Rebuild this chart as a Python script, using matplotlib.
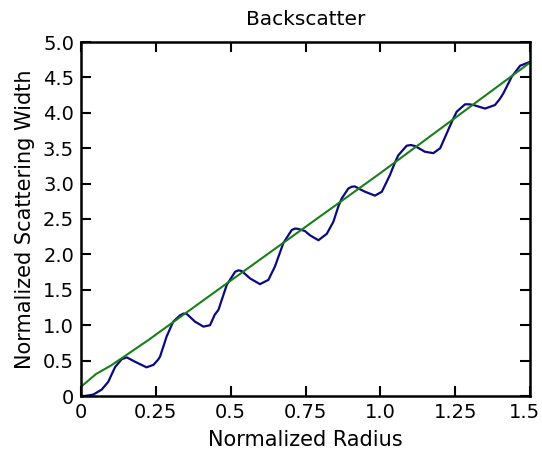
import matplotlib
matplotlib.use("Agg")
import matplotlib.pyplot as plt
import matplotlib.transforms as mtransforms

# Blue curve: exact backscatter width
radius = [0.0, 0.013, 0.041, 0.069, 0.091, 0.114, 0.124, 0.136, 0.153, 0.180, 0.219,
          0.242, 0.257, 0.264, 0.286, 0.308, 0.331, 0.343, 0.353, 0.381, 0.409, 0.431,
          0.447, 0.459, 0.487, 0.515, 0.526, 0.537, 0.565, 0.598, 0.626, 0.648, 0.676,
          0.704, 0.716, 0.726, 0.748, 0.765, 0.793, 0.821, 0.843, 0.860, 0.871, 0.893,
          0.904, 0.915, 0.932, 0.949, 0.982, 1.005, 1.032, 1.049, 1.060, 1.088, 1.102,
          1.116, 1.149, 1.177, 1.200, 1.227, 1.244, 1.255, 1.283, 1.297, 1.311, 1.350,
          1.383, 1.400, 1.411, 1.439, 1.467, 1.494, 1.500]
width_exact = [0.0, 0.0, 0.02, 0.09, 0.20, 0.41, 0.46, 0.52, 0.545, 0.485, 0.405,
               0.44, 0.51, 0.555, 0.84, 1.05, 1.14, 1.165, 1.16, 1.05, 0.98, 1.00,
               1.15, 1.215, 1.57, 1.755, 1.775, 1.765, 1.66, 1.58, 1.64, 1.83, 2.16,
               2.345, 2.365, 2.36, 2.33, 2.27, 2.20, 2.29, 2.46, 2.68, 2.79, 2.93,
               2.955, 2.96, 2.92, 2.885, 2.83, 2.885, 3.12, 3.30, 3.40, 3.535, 3.545,
               3.53, 3.45, 3.43, 3.50, 3.76, 3.92, 4.015, 4.12, 4.12, 4.11, 4.06,
               4.11, 4.20, 4.275, 4.51, 4.665, 4.71, 4.72]

# Green curve: approximation
radius_approx = [0.0, 0.05, 0.10, 0.225, 0.464, 0.999, 1.5]
width_approx = [0.13, 0.31, 0.43, 0.79, 1.52, 3.145, 4.71]

xticks = [0, 0.25, 0.5, 0.75, 1.0, 1.25, 1.5]
xticklabels = ["0", "0.25", "0.5", "0.75", "1.0", "1.25", "1.5"]
yticks = [0, 0.5, 1.0, 1.5, 2.0, 2.5, 3.0, 3.5, 4.0, 4.5, 5.0]
yticklabels = ["0", "0.5", "1.0", "1.5", "2.0", "2.5", "3.0", "3.5", "4.0", "4.5", "5.0"]

plt.rcParams['font.family'] = ['DejaVu Sans']
fig = plt.figure(figsize=(5.42, 4.5), dpi=100)
ax = fig.add_axes([81/542, 1-396/450, (530-81)/542, (396-42)/450])

ax.plot(radius, width_exact, color='#0a0a80', lw=1.6, solid_joinstyle='round')
ax.plot(radius_approx, width_approx, color='#1a7f1a', lw=1.5, solid_joinstyle='round')

ax.set_xlim(0, 1.5)
ax.set_ylim(0, 5.0)
ax.set_xticks(xticks)
ax.set_xticklabels(xticklabels)
ax.set_yticks(yticks)
ax.set_yticklabels(yticklabels)
ax.tick_params(direction='in', length=7, width=1.5, labelsize=14, top=True, right=True, pad=5)
for s in ax.spines.values():
    s.set_linewidth(1.8)

# keep the last x tick label inside the figure edge
last = ax.get_xticklabels()[-1]
last.set_transform(last.get_transform() +
                   mtransforms.ScaledTranslation(-0.055, 0, fig.dpi_scale_trans))

ax.set_xlabel("Normalized Radius", fontsize=15, labelpad=6)
ax.set_ylabel("Normalized Scattering Width", fontsize=15, labelpad=6)
ax.set_title("Backscatter", fontsize=14.5, pad=12)

fig.savefig("out.png", dpi=100)
